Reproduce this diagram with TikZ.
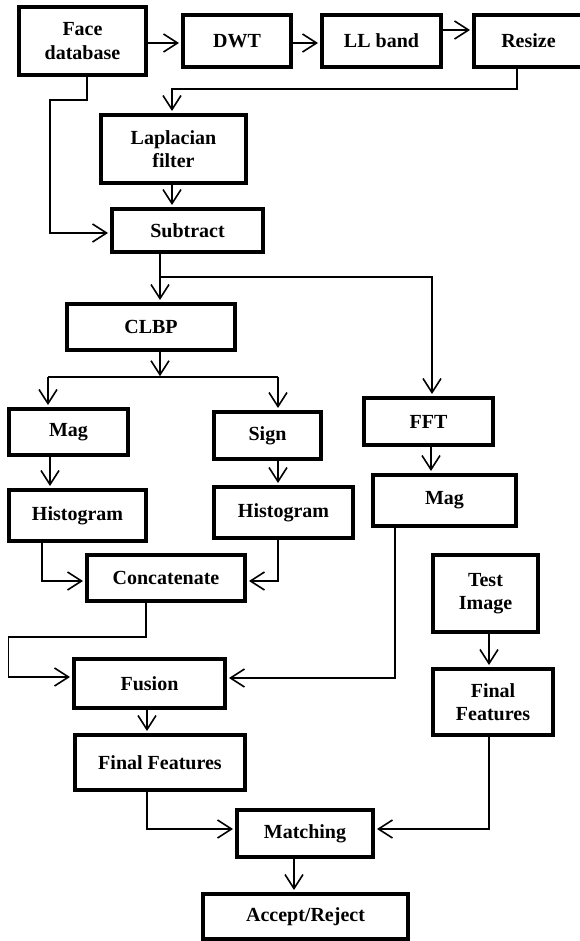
\documentclass[tikz,border=0pt]{standalone}
\usepackage{fontspec}
\setmainfont{Liberation Serif}
\usetikzlibrary{arrows.meta}
\begin{document}
\begin{tikzpicture}[x=1pt,y=-1pt,
  box/.style={draw, line width=4pt, font=\fontsize{20}{23.5}\selectfont\bfseries, align=center, inner sep=0pt},
  conn/.style={line width=1.6pt, -{Straight Barb[length=14pt,width=18pt]}, shorten >=2pt},
  plain/.style={line width=1.6pt}]
\useasboundingbox (0,0) rectangle (579,941);
\fill[white] (0,0) rectangle (579,941);
% boxes
\node[box, minimum width=127pt, minimum height=68pt] (face) at (82.5,41) {Face\\database};
\node[box, minimum width=108pt, minimum height=52pt] (dwt) at (237,41) {DWT};
\node[box, minimum width=119pt, minimum height=52pt] (ll) at (381.5,41) {LL band};
\node[box, minimum width=109pt, minimum height=52pt] (resize) at (528.5,41) {Resize};
\node[box, minimum width=145pt, minimum height=68pt] (lap) at (173.5,149) {Laplacian\\filter};
\node[box, minimum width=151pt, minimum height=43pt] (sub) at (187.5,230.5) {Subtract};
\node[box, minimum width=168pt, minimum height=46pt] (clbp) at (151,327) {CLBP};
\node[box, minimum width=119pt, minimum height=46pt] (mag1) at (68.5,432) {Mag};
\node[box, minimum width=107pt, minimum height=47pt] (sign) at (267.5,435.5) {Sign};
\node[box, minimum width=129pt, minimum height=47pt] (fft) at (428.5,421.5) {FFT};
\node[box, minimum width=137pt, minimum height=51pt] (hist1) at (77.5,515.5) {Histogram};
\node[box, minimum width=139pt, minimum height=51pt] (hist2) at (283.5,512.5) {Histogram};
\node[box, minimum width=143pt, minimum height=51pt] (mag2) at (444.5,500.5) {Mag};
\node[box, minimum width=158pt, minimum height=46pt] (concat) at (166,578) {Concatenate};
\node[box, minimum width=105pt, minimum height=77pt] (test) at (485.5,593.5) {Test\\Image};
\node[box, minimum width=151pt, minimum height=49pt] (fusion) at (149.5,683.5) {Fusion};
\node[box, minimum width=120pt, minimum height=66pt] (ff2) at (493,702) {Final\\Features};
\node[box, minimum width=170pt, minimum height=55pt] (ff1) at (160,762.5) {Final Features};
\node[box, minimum width=136pt, minimum height=47pt] (match) at (305,833.5) {Matching};
\node[box, minimum width=205pt, minimum height=45pt] (accept) at (305.5,916.5) {Accept/Reject};
% branch points
\coordinate (b1) at (160,277);
\coordinate (b2) at (160,377);
\coordinate (b2l) at (48,377);
\coordinate (b2r) at (278,377);
% connectors
\draw[conn] (face.east |- 0,43) -- (dwt.west |- 0,43);
\draw[conn] (dwt.east |- 0,43) -- (ll.west |- 0,43);
\draw[conn] (ll.east |- 0,30) -- (resize.west |- 0,30);
\draw[conn] (resize.south -| 517,0) |- (172,89) -- (lap.north -| 172,0);
\draw[conn] (face.south -| 87,0) |- (50,100) |- (sub.west |- 0,233);
\draw[conn] (lap.south -| 172,0) -- (sub.north -| 172,0);
\draw[conn] (sub.south -| 160,0) -- (clbp.north -| 160,0);
\draw[conn] (b1) -| (fft.north -| 432,0);
\draw[conn, shorten >=0.8pt] (clbp.south -| 160,0) -- (b2);
\draw[plain] (b2l) -- (b2r);
\draw[conn] (b2l) -- (mag1.north -| 48,0);
\draw[conn] (b2r) -- (sign.north -| 278,0);
\draw[conn] (mag1.south -| 50,0) -- (hist1.north -| 50,0);
\draw[conn] (sign.south -| 278,0) -- (hist2.north -| 278,0);
\draw[conn] (fft.south -| 431,0) -- (mag2.north -| 431,0);
\draw[conn] (hist1.south -| 42,0) |- (concat.west |- 0,581);
\draw[conn] (hist2.south -| 278,0) |- (concat.east |- 0,581);
\draw[conn] (concat.south -| 146,0) |- (8.5,637) |- (fusion.west |- 0,677);
\draw[conn] (mag2.south -| 395,0) |- (fusion.east |- 0,678);
\draw[conn] (fusion.south -| 147,0) -- (ff1.north -| 147,0);
\draw[conn] (test.south -| 489,0) -- (ff2.north -| 489,0);
\draw[conn] (ff1.south -| 147,0) |- (match.west |- 0,829);
\draw[conn] (ff2.south -| 489,0) |- (match.east |- 0,829);
\draw[conn] (match.south -| 294,0) -- (accept.north -| 294,0);
\end{tikzpicture}
\end{document}
